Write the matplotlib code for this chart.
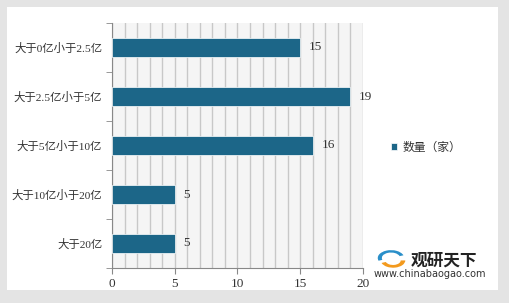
import matplotlib as mpl
mpl.use("agg")
import matplotlib.pyplot as plt
from matplotlib.patches import Rectangle, Wedge

plt.rcParams['font.family'] = ['Liberation Serif', 'Noto Sans CJK SC']

categories = ["大于0亿小于2.5亿", "大于2.5亿小于5亿", "大于5亿小于10亿", "大于10亿小于20亿", "大于20亿"]
counts = [15, 19, 16, 5, 5]
series_name = "数量（家）"
xticks = [0, 5, 10, 15, 20]

W, H = 510, 303
fig = plt.figure(figsize=(W / 100, H / 100), dpi=100)
fig.patch.set_facecolor("#e4e4e4")
fig.patches.append(Rectangle((7 / W, 1 - 290 / H), 491 / W, 283 / H,
                             transform=fig.transFigure, facecolor="white",
                             edgecolor="none", zorder=-5))

ax = fig.add_axes([112 / W, 1 - 268 / H, 251 / W, 245 / H])
ax.set_zorder(2)
ax.set_facecolor("#f5f5f5")
ypos = list(range(len(categories)))
bars = ax.barh(ypos, counts, height=0.38, color="#1c6688", edgecolor="white",
               linewidth=0.5, zorder=3, label=series_name)
for y, v in zip(ypos, counts):
    ax.text(v + 0.7, y, str(v), va="center", ha="left", fontsize=9.5, color="#333333")

ax.set_xlim(0, 20)
ax.set_ylim(len(categories) - 0.5, -0.5)
ax.set_xticks(xticks)
ax.set_xticks(range(0, 21), minor=True)
ax.grid(True, axis="x", which="both", color="#c8c8c8", linewidth=1, zorder=1)
ax.set_yticks(ypos)
ax.set_yticklabels(categories, fontsize=8.2, color="#333333")
ax.set_yticks([i + 0.5 for i in range(-1, len(categories))], minor=True)
ax.tick_params(axis="y", which="major", length=0, pad=7)
ax.tick_params(axis="y", which="minor", length=4, color="#888888")
ax.tick_params(axis="x", which="major", length=4, color="#888888", labelsize=9.5,
               labelcolor="#333333")
ax.tick_params(axis="x", which="minor", length=0)
for s in ["top", "right"]:
    ax.spines[s].set_visible(False)
for s in ["left", "bottom"]:
    ax.spines[s].set_color("#888888")

leg = fig.legend(handles=[bars], labels=[series_name], loc="center left",
                 bbox_to_anchor=(380 / W, 1 - 147 / H), frameon=False,
                 handlelength=0.5, handleheight=0.5, handletextpad=0.5,
                 prop={'family': ['Noto Sans CJK SC'], 'size': 8.5})
for t in leg.get_texts():
    t.set_color("#333333")

# watermark logo
lx, ly = 391 / W, 1 - 258 / H
fig.patches.append(Wedge((lx, ly), 0.026, 20, 200, width=0.008,
                         transform=fig.transFigure, facecolor="#2a8fc9", zorder=5))
fig.patches.append(Wedge((lx + 0.004, ly - 0.008), 0.024, 200, 360, width=0.009,
                         transform=fig.transFigure, facecolor="#f39a1e", zorder=5))
fig.text(444 / W, 1 - 261 / H, "观研天下", fontsize=12, fontweight="bold",
         ha="center", va="center", family=['Noto Sans CJK SC'], color="#222222")
fig.text(430 / W, 1 - 274 / H, "www.chinabaogao.com", fontsize=7,
         ha="center", va="center", family=['DejaVu Sans'], color="#333333")

fig.savefig("out.png", dpi=100, facecolor=fig.get_facecolor())
